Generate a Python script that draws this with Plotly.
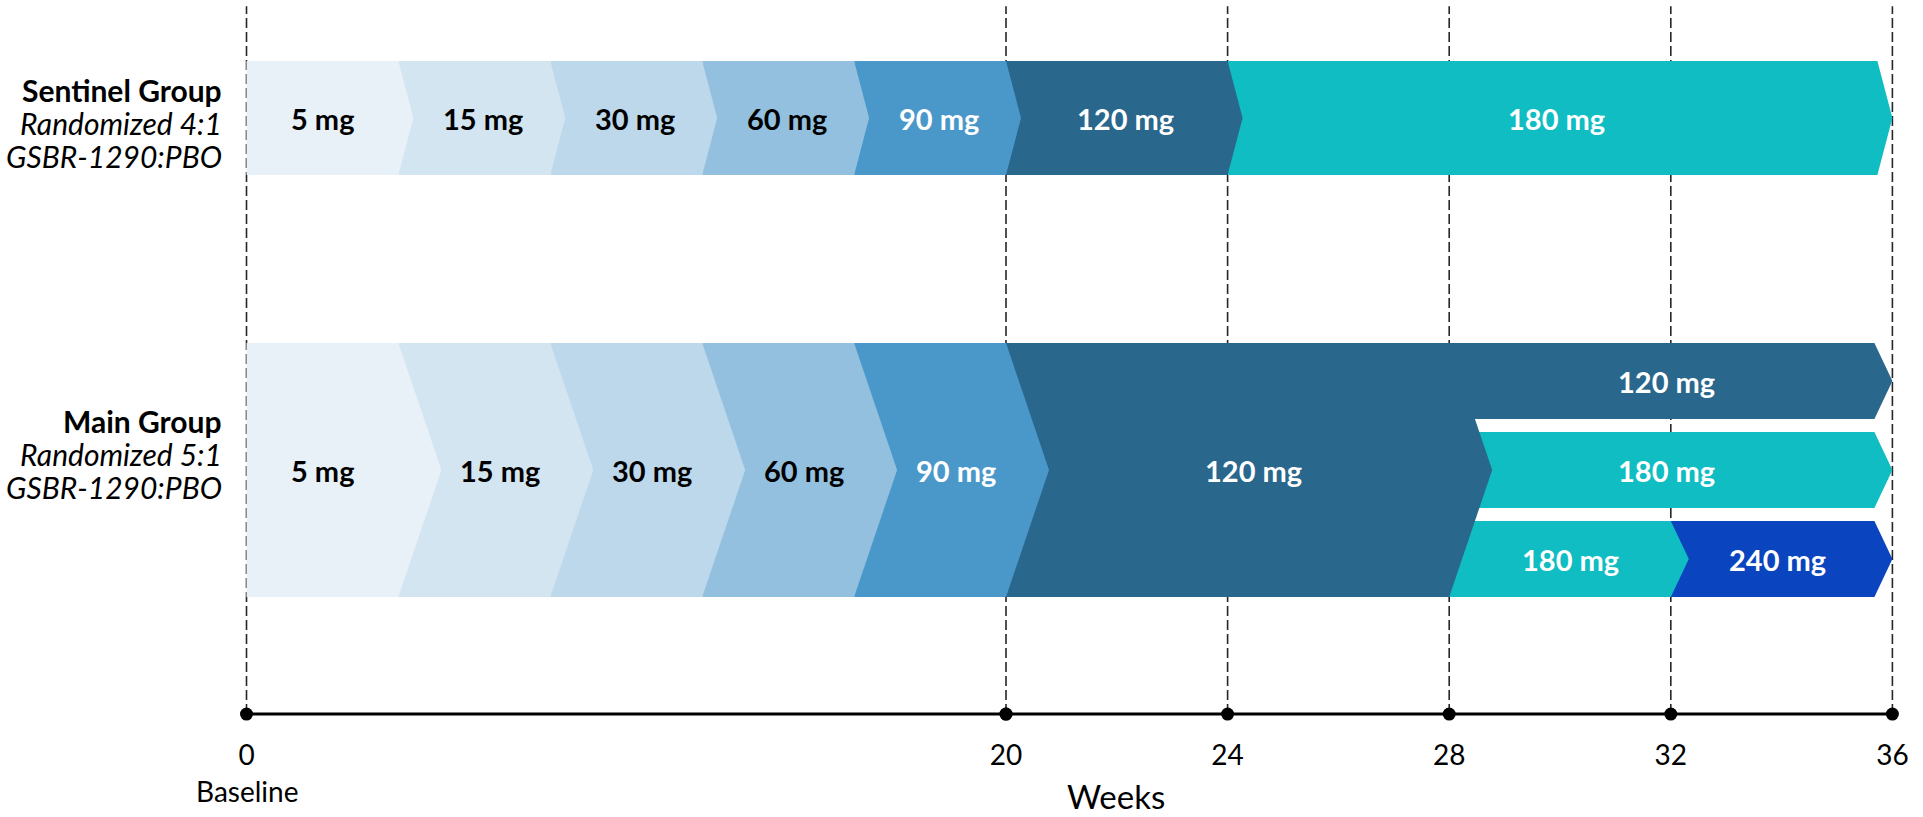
import plotly.graph_objects as go

FIG_W, FIG_H = 1923, 817
FONT = "Lato"

# ---- dosing schedule (weeks) ----
sentinel_doses = ["5 mg", "15 mg", "30 mg", "60 mg", "90 mg", "120 mg", "180 mg"]
sentinel_start = [0, 4, 8, 12, 16, 20, 24]
sentinel_end = [4, 8, 12, 16, 20, 24, 36]

main_doses = ["5 mg", "15 mg", "30 mg", "60 mg", "90 mg", "120 mg"]
main_start = [0, 4, 8, 12, 16, 20]
main_end = [4, 8, 12, 16, 20, 28]

# after week 28 the main group splits into three arms (top to bottom)
arm_doses = [["120 mg"], ["180 mg"], ["180 mg", "240 mg"]]
arm_start = [[28], [28], [28, 32]]
arm_end = [[36], [36], [32, 36]]

week_ticks = [0, 20, 24, 28, 32, 36]
week_tick_text = ["0", "20", "24", "28", "32", "36"]

dose_colors = {
    "5 mg": "#E8F0F8",
    "15 mg": "#D3E5F1",
    "30 mg": "#BCD8EA",
    "60 mg": "#92C0DE",
    "90 mg": "#4A98CA",
    "120 mg": "#2A678C",
    "180 mg": "#10BDC3",
    "240 mg": "#0A44BE",
}
dark_label_doses = {"5 mg", "15 mg", "30 mg", "60 mg"}

# ---- split time axis: weeks 0-20 compressed, weeks 20-36 expanded ----
X0_PX, X20_PX, X36_PX = 246.5, 1006.0, 1892.4
PPW1 = (X20_PX - X0_PX) / 20.0
PPW2 = (X36_PX - X20_PX) / 16.0
RANGE1 = [-0.6, 21.6]
RANGE2 = [19.4, 36.4]
DOM1 = [(X0_PX + RANGE1[0] * PPW1) / FIG_W, (X0_PX + RANGE1[1] * PPW1) / FIG_W]
DOM2 = [(X20_PX + (RANGE2[0] - 20) * PPW2) / FIG_W, (X20_PX + (RANGE2[1] - 20) * PPW2) / FIG_W]
SPLIT_WEEK = 20
LAST_WEEK = 36

# ---- vertical layout (lane units) ----
Y_UNIT_PX = 89.0
MAIN_CENTER_PX = 470.0
Y_RANGE = [-(FIG_H - MAIN_CENTER_PX) / Y_UNIT_PX, MAIN_CENTER_PX / Y_UNIT_PX]
SENTINEL_Y, SENTINEL_HALF = 3.955, 0.64
MAIN_Y, MAIN_HALF = 0.0, 1.427
ARM_Y = [1.0, 0.0, -1.0]
ARM_HALF = 0.427
AXIS_Y = -2.742
DASH_TOP_Y = 5.21

# chevron tip depths in pixels
TIP_SENTINEL, TIP_MAIN, TIP_ARM = 15, 43, 18


def axis_for(start):
    return ("x", PPW1) if start < SPLIT_WEEK else ("x2", PPW2)


shapes, annotations = [], []


def chevron(dose, start, end, yc, half, tip_px):
    xref, ppw = axis_for(start)
    d = tip_px / ppw
    final = end >= LAST_WEEK
    corner = end - d if final else end
    tip = end if final else end + d
    y0, y1 = yc - half, yc + half
    path = (f"M {start},{y0} L {corner},{y0} L {tip},{yc} "
            f"L {corner},{y1} L {start},{y1} Z")
    shp = dict(type="path", path=path, xref=xref, yref="y", layer="above",
               fillcolor=dose_colors[dose], line=dict(width=0))
    shift = (0.25 if final else 0.6) * d if start > 0 else 0.0
    ann = dict(text=f"<b>{dose}</b>", x=(start + corner) / 2 + shift, y=yc,
               xref=xref, yref="y", showarrow=False,
               font=dict(family=FONT, size=29,
                         color="#000000" if dose in dark_label_doses else "#FFFFFF"))
    return shp, ann


segments = []
for dose, s, e in zip(sentinel_doses, sentinel_start, sentinel_end):
    segments.append((dose, s, e, SENTINEL_Y, SENTINEL_HALF, TIP_SENTINEL))
for dose, s, e in zip(main_doses, main_start, main_end):
    segments.append((dose, s, e, MAIN_Y, MAIN_HALF, TIP_MAIN))
for yc, doses, starts, ends in zip(ARM_Y, arm_doses, arm_start, arm_end):
    for dose, s, e in zip(doses, starts, ends):
        segments.append((dose, s, e, yc, ARM_HALF, TIP_ARM))

# later segments first so each tip sits over the following segment
for seg in sorted(segments, key=lambda t: -t[1]):
    shp, ann = chevron(*seg)
    shapes.append(shp)
    annotations.append(ann)

# dashed week guides
for w in week_ticks:
    xref = "x" if w <= SPLIT_WEEK else "x2"
    shapes.append(dict(type="line", xref=xref, yref="y", x0=w, x1=w,
                       y0=AXIS_Y, y1=DASH_TOP_Y, layer="below",
                       line=dict(color="#262626", width=1.6, dash="10px,4px")))

fig = go.Figure()

ticks1 = [w for w in week_ticks if w <= SPLIT_WEEK]
ticks2 = [w for w in week_ticks if w >= SPLIT_WEEK]
fig.add_trace(go.Scatter(x=ticks1, y=[AXIS_Y] * len(ticks1), xaxis="x", yaxis="y",
                         mode="lines+markers", line=dict(color="black", width=3),
                         marker=dict(size=13, color="black"), cliponaxis=False,
                         hoverinfo="skip", showlegend=False))
fig.add_trace(go.Scatter(x=ticks2, y=[AXIS_Y] * len(ticks2), xaxis="x2", yaxis="y",
                         mode="lines+markers", line=dict(color="black", width=3),
                         marker=dict(size=13, color="black"), cliponaxis=False,
                         hoverinfo="skip", showlegend=False))

axis_pos = (AXIS_Y - Y_RANGE[0]) / (Y_RANGE[1] - Y_RANGE[0])
tick_common = dict(showgrid=False, zeroline=False, showline=False, anchor="free",
                   position=axis_pos, ticks="outside", ticklen=16,
                   tickcolor="rgba(0,0,0,0)", tickfont=dict(family=FONT, size=28, color="#000"))

lbl1 = [t for w, t in zip(week_ticks, week_tick_text) if w <= SPLIT_WEEK]
lbl2 = [t for w, t in zip(week_ticks, week_tick_text) if w > SPLIT_WEEK]

# group labels
group_blocks = [
    (SENTINEL_Y + 0.32, ["<b>Sentinel Group</b>", "<i>Randomized 4:1</i>", "<i>GSBR-1290:PBO</i>"]),
    (MAIN_Y + 0.555, ["<b>Main Group</b>", "<i>Randomized 5:1</i>", "<i>GSBR-1290:PBO</i>"]),
]
for y_top, lines in group_blocks:
    for i, line in enumerate(lines):
        annotations.append(dict(text=line, xref="paper", yref="y", x=224 / FIG_W,
                                y=y_top - i * 0.373, xanchor="right", showarrow=False,
                                font=dict(family=FONT, size=30, color="#000")))

annotations.append(dict(text="Baseline", xref="x", yref="y", x=0, y=-3.607,
                        showarrow=False, font=dict(family=FONT, size=28, color="#000")))
annotations.append(dict(text="Weeks", xref="paper", yref="y", x=1116 / FIG_W, y=-3.66,
                        showarrow=False, font=dict(family=FONT, size=33, color="#000")))

fig.update_layout(
    width=FIG_W, height=FIG_H,
    margin=dict(l=0, r=0, t=0, b=0),
    paper_bgcolor="white", plot_bgcolor="rgba(0,0,0,0)",
    showlegend=False,
    xaxis=dict(domain=DOM1, range=RANGE1, tickvals=ticks1, ticktext=lbl1, **tick_common),
    xaxis2=dict(domain=DOM2, range=RANGE2, tickvals=[w for w in week_ticks if w > SPLIT_WEEK],
                ticktext=lbl2, **tick_common),
    yaxis=dict(domain=[0, 1], range=Y_RANGE, visible=False, showgrid=False, zeroline=False),
    shapes=shapes,
    annotations=annotations,
)

fig.write_html("out.html")
